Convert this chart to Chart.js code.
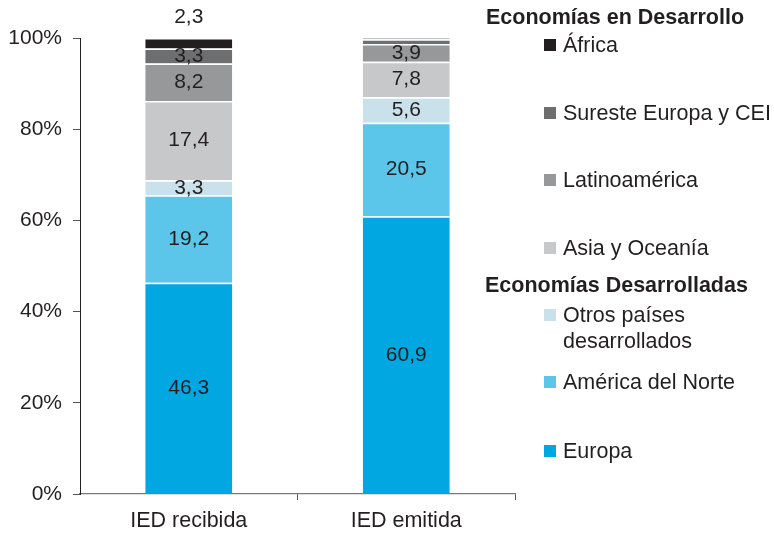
<!DOCTYPE html>
<html>
<head>
<meta charset="utf-8">
<script src="https://cdn.jsdelivr.net/npm/chart.js@4/dist/chart.umd.min.js"></script>
<style>
  body { margin: 0; background: #fff; font-family: "Liberation Sans", Arial, sans-serif; color: #231f20; }
  #wrap { position: relative; width: 774px; height: 540px; }
  .hdr { position: absolute; font-weight: bold; font-size: 21.5px; line-height: 24px; white-space: nowrap; }
  .item { position: absolute; left: 544px; font-size: 21.5px; line-height: 26px; display: flex; align-items: flex-start; white-space: nowrap; }
  .item .sq { width: 12px; height: 12px; margin: 7px 7px 0 0; flex: none; }
</style>
</head>
<body>
<div id="wrap">
  <canvas id="chart" width="774" height="540"></canvas>
  <div id="legend"></div>
</div>
<script>
// categories
const categories = ['IED recibida', 'IED emitida'];

// series, bottom to top (share in %)
const europa      = [46.3, 60.9];
const norteamer   = [19.2, 20.5];
const otrosDes    = [3.3, 5.6];
const asiaOcean   = [17.4, 7.8];
const latinoam    = [8.2, 3.9];
const surEuropa   = [3.3, 1.0];
const africa      = [2.3, 0.3];

const seriesNames  = ['Europa', 'América del Norte', 'Otros países desarrollados', 'Asia y Oceanía', 'Latinoamérica', 'Sureste Europa y CEI', 'África'];
const seriesData   = [europa, norteamer, otrosDes, asiaOcean, latinoam, surEuropa, africa];
const seriesColors = ['#00a7e1', '#5bc5ea', '#c9e1ea', '#c7c8ca', '#97989a', '#6d6e70', '#231f20'];

const yTicks = [0, 20, 40, 60, 80, 100];

const FONT = '"Liberation Sans", Arial, sans-serif';
const TXT = '#231f20';

// value labels drawn in the middle of each segment (top series goes above the bar)
const segmentLabels = {
  id: 'segmentLabels',
  afterDatasetsDraw(chart) {
    const ctx = chart.ctx;
    ctx.save();
    ctx.font = '21px ' + FONT;
    ctx.fillStyle = TXT;
    ctx.textAlign = 'center';
    ctx.textBaseline = 'middle';
    const last = chart.data.datasets.length - 1;
    chart.data.datasets.forEach((ds, di) => {
      const meta = chart.getDatasetMeta(di);
      meta.data.forEach((bar, i) => {
        const v = ds.data[i];
        if (v < 1.5) return;
        const txt = v.toFixed(1).replace('.', ',');
        const y = di === last ? bar.y - 21 : (bar.y + bar.base) / 2;
        ctx.fillText(txt, bar.x, y);
      });
    });
    ctx.restore();
  }
};

new Chart(document.getElementById('chart'), {
  type: 'bar',
  data: {
    labels: categories,
    datasets: seriesData.map((d, i) => ({
      label: seriesNames[i],
      data: d,
      backgroundColor: seriesColors[i],
      borderColor: '#ffffff',
      borderWidth: { top: 1.5, right: 0, bottom: 0, left: 0 },
      borderSkipped: false,
      barPercentage: 0.4,
      categoryPercentage: 1
    }))
  },
  options: {
    responsive: false,
    animation: false,
    devicePixelRatio: 1,
    layout: { padding: { top: 38, right: 259, bottom: 0, left: 0 } },
    plugins: {
      legend: { display: false },
      tooltip: { enabled: false }
    },
    scales: {
      x: {
        stacked: true,
        afterFit: s => { s.height = 46; },
        border: { color: '#7a7a7a', width: 1.2 },
        grid: {
          offset: true,
          drawOnChartArea: false,
          tickLength: 6,
          // no tick where the x axis meets the y axis
          color: c => (c.index === 0 ? 'rgba(0,0,0,0)' : '#555')
        },
        ticks: { color: TXT, font: { family: FONT, size: 21.5 }, padding: 8 }
      },
      y: {
        stacked: true,
        min: 0,
        max: 100,
        afterFit: s => { s.width = 80; },
        afterBuildTicks: s => { s.ticks = yTicks.map(v => ({ value: v })); },
        border: { color: TXT, width: 1 },
        grid: { drawOnChartArea: false, tickLength: 7, color: '#555' },
        ticks: {
          color: TXT,
          font: { family: FONT, size: 21 },
          padding: 11,
          callback: v => v + '%'
        }
      }
    }
  },
  plugins: [segmentLabels]
});

// legend, built from the same series
const legend = document.getElementById('legend');
function addHeader(text, left, top) {
  const d = document.createElement('div');
  d.className = 'hdr';
  d.style.left = left + 'px';
  d.style.top = top + 'px';
  d.textContent = text;
  legend.appendChild(d);
}
function addItem(idx, top, html) {
  const d = document.createElement('div');
  d.className = 'item';
  d.style.top = top + 'px';
  const sq = document.createElement('span');
  sq.className = 'sq';
  sq.style.background = seriesColors[idx];
  const t = document.createElement('span');
  t.innerHTML = html || seriesNames[idx];
  d.appendChild(sq);
  d.appendChild(t);
  legend.appendChild(d);
}
addHeader('Economías en Desarrollo', 486, 5);
addItem(6, 32);
addItem(5, 100);
addItem(4, 167);
addItem(3, 235);
addHeader('Economías Desarrolladas', 485, 273);
addItem(2, 302, 'Otros países<br>desarrollados');
addItem(1, 369);
addItem(0, 438);
</script>
</body>
</html>
